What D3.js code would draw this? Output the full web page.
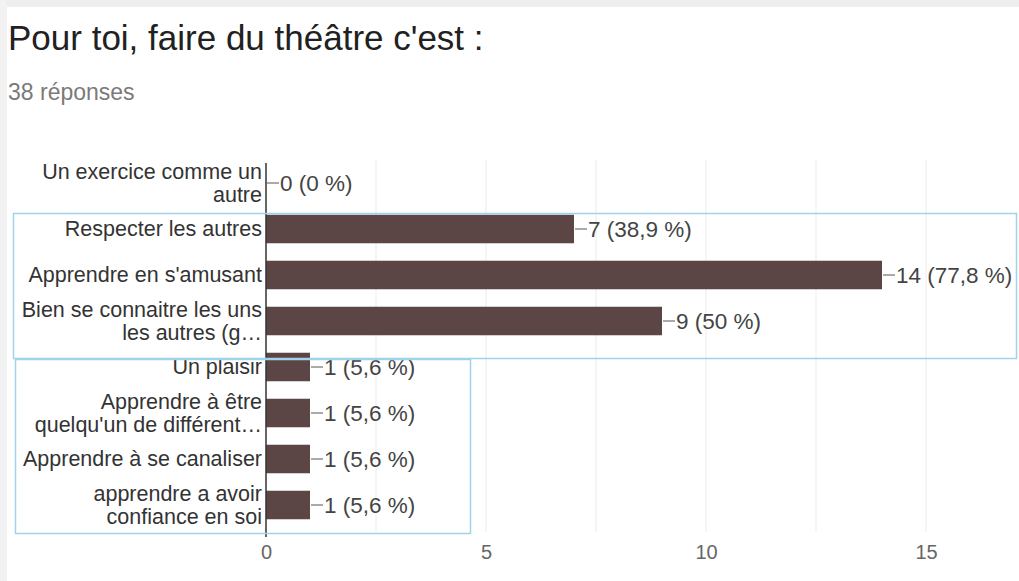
<!DOCTYPE html>
<html><head><meta charset="utf-8">
<script src="https://cdn.jsdelivr.net/npm/d3@7"></script>
<style>
html,body{margin:0;padding:0;background:#fff;}
svg{display:block;}
</style></head>
<body>
<svg id="c" width="1019" height="581"></svg>
<script>
const categories = [
  ["Un exercice comme un", "autre"],
  ["Respecter les autres"],
  ["Apprendre en s'amusant"],
  ["Bien se connaitre les uns", "les autres (g…"],
  ["Un plaisir"],
  ["Apprendre à être", "quelqu'un de différent…"],
  ["Apprendre à se canaliser"],
  ["apprendre a avoir", "confiance en soi"]
];
const values = [0, 7, 14, 9, 1, 1, 1, 1];
const percents = ["0 %", "38,9 %", "77,8 %", "50 %", "5,6 %", "5,6 %", "5,6 %", "5,6 %"];
const xTicks = [0, 5, 10, 15];
const gridValues = [2.5, 5, 7.5, 10, 12.5, 15];

(function(){
const svg = d3.select("#c");
const W = 1019, H = 581;
const font = "'Liberation Sans', Arial, sans-serif";

svg.append("rect").attr("x",0).attr("y",0).attr("width",W).attr("height",7).attr("fill","#eeeeee");
svg.append("rect").attr("x",0).attr("y",0).attr("width",7).attr("height",H).attr("fill","#f2f2f2");

svg.append("text").attr("x",8).attr("y",50)
  .attr("font-family",font)
  .attr("font-size",35).attr("fill","#212121")
  .text("Pour toi, faire du théâtre c'est :");
svg.append("text").attr("x",8).attr("y",100)
  .attr("font-family",font)
  .attr("font-size",23).attr("fill","#7a7a7a")
  .text("38 réponses");

const pLeft = 266, pTop = 160, pBottom = 528;
const x = d3.scaleLinear().domain([0, 15]).range([pLeft, pLeft + 15*44]);
const y = d3.scaleBand().domain(d3.range(categories.length)).range([pTop, pBottom]).paddingInner(0.38).paddingOuter(0.19);

svg.append("g").selectAll("line").data(gridValues).join("line")
  .attr("x1", d => x(d)).attr("x2", d => x(d))
  .attr("y1", pTop).attr("y2", 532)
  .attr("stroke", "#ebebeb").attr("stroke-width", 1);

svg.append("g").selectAll("rect").data(values).join("rect")
  .attr("x", x(0)).attr("y", (d,i) => y(i))
  .attr("width", d => x(d) - x(0)).attr("height", y.bandwidth())
  .attr("fill", "#5c4545");

const lab = svg.append("g");
values.forEach((v,i) => {
  const cy = y(i) + y.bandwidth()/2;
  lab.append("line").attr("x1", x(v)+1).attr("x2", x(v)+13)
    .attr("y1", cy).attr("y2", cy).attr("stroke", "#555").attr("stroke-width", 1);
  lab.append("text").attr("x", x(v)+14).attr("y", cy+7.5)
    .attr("font-family", font).attr("font-size", 22.5).attr("fill", "#444")
    .text(v + " (" + percents[i] + ")");
});

const cl = svg.append("g");
categories.forEach((lines,i) => {
  const cy = y(i) + y.bandwidth()/2;
  const n = lines.length, lh = 23;
  lines.forEach((t,j) => {
    cl.append("text").attr("x", pLeft - 4)
      .attr("y", cy + (j - (n-1)/2)*lh + 7)
      .attr("text-anchor", "end")
      .attr("font-family", font).attr("font-size", 21.5).attr("fill", "#333")
      .text(t);
  });
});

svg.append("line").attr("x1", pLeft).attr("x2", pLeft).attr("y1", 163).attr("y2", 537)
  .attr("stroke", "#333").attr("stroke-width", 1.5);

const xa = d3.axisBottom(x).tickValues(xTicks).tickSize(0).tickPadding(0);
const gx = svg.append("g").attr("transform", "translate(0,559)").call(xa);
gx.select(".domain").remove();
gx.selectAll("text").attr("font-family", font).attr("font-size", 20).attr("fill", "#666")
  .attr("y", 0).attr("dy", 0);

svg.append("rect").attr("x", 13.5).attr("y", 213.5).attr("width", 1003).attr("height", 145)
  .attr("fill", "none").attr("stroke", "#9fd3ea").attr("stroke-width", 1.5);
svg.append("rect").attr("x", 15.5).attr("y", 359.5).attr("width", 455).attr("height", 174)
  .attr("fill", "none").attr("stroke", "#9fd3ea").attr("stroke-width", 1.5);
})();
</script>
</body></html>
